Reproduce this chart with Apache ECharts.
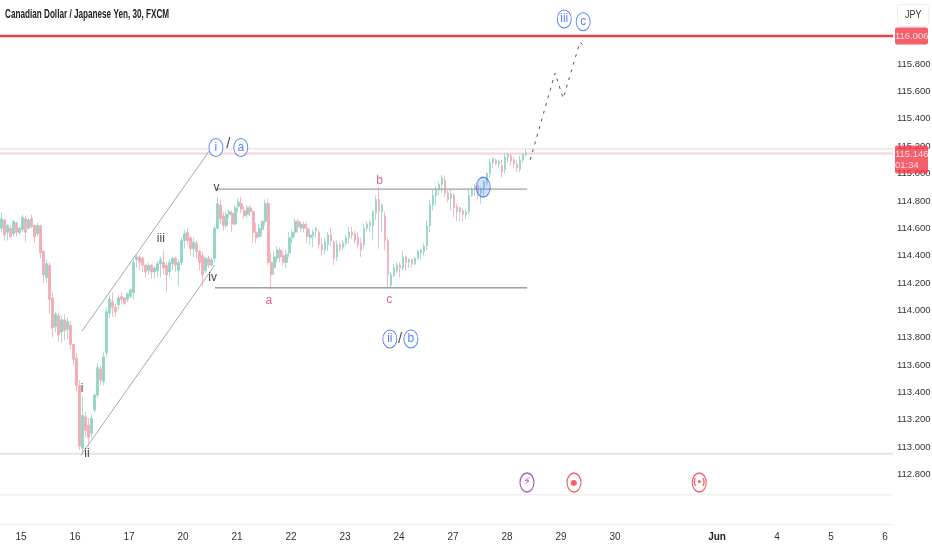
<!DOCTYPE html>
<html><head><meta charset="utf-8"><style>html,body{margin:0;padding:0;background:#fff}#c{width:932px;height:550px}</style>
<script src="https://cdn.jsdelivr.net/npm/echarts@6/dist/echarts.min.js"></script></head><body><div id="c"></div>
<script>
// Candles: [open, close, low, high] grouped by session
const daySlots = 298;
const dayPrior = [[114.60,114.67,114.57,114.72],[114.66,114.55,114.51,114.67],[114.57,114.62,114.51,114.63],[114.60,114.54,114.53,114.62],[114.56,114.65,114.54,114.66],[114.64,114.57,114.54,114.65],[114.57,114.60,114.55,114.61]];
const day15 = [[114.59,114.68,114.57,114.70],[114.67,114.57,114.50,114.69],[114.60,114.66,114.59,114.68],[114.67,114.61,114.60,114.70],[114.62,114.54,114.49,114.63],[114.56,114.62,114.54,114.64],[114.62,114.42,114.38,114.62],[114.43,114.26,114.20,114.44],[114.24,114.34,114.20,114.37],[114.33,114.08,113.98,114.35],[114.09,113.87,113.80,114.13],[113.88,113.97,113.84,113.99],[113.96,113.82,113.77,113.98],[113.84,113.93,113.76,113.96],[113.93,113.85,113.78,113.97],[113.86,113.92,113.79,113.95],[113.89,113.75,113.71,113.92],[113.75,113.64,113.60,113.75]];
const day16 = [[113.65,113.45,113.40,113.69],[113.45,113.01,112.98,113.49],[112.99,113.23,112.95,113.37],[113.22,113.12,113.07,113.26],[113.16,113.07,113.01,113.21],[113.10,113.21,113.07,113.24],[113.27,113.38,113.25,113.39],[113.38,113.58,113.36,113.61],[113.57,113.49,113.45,113.59],[113.48,113.66,113.45,113.69],[113.69,113.99,113.66,114.02],[113.98,114.08,113.94,114.11],[114.06,114.02,113.95,114.13],[114.02,113.99,113.95,114.05],[114.04,114.09,114.00,114.11],[114.10,114.08,114.05,114.13],[114.09,114.05,114.04,114.10],[114.08,114.12,114.06,114.13]];
const day17 = [[114.10,114.15,114.09,114.16],[114.13,114.35,114.08,114.37],[114.37,114.39,114.31,114.41],[114.39,114.35,114.29,114.40],[114.38,114.33,114.28,114.39],[114.33,114.28,114.24,114.34],[114.29,114.33,114.26,114.35],[114.33,114.28,114.23,114.34],[114.28,114.31,114.23,114.32],[114.29,114.34,114.24,114.36],[114.34,114.37,114.24,114.39],[114.35,114.31,114.26,114.44],[114.33,114.26,114.13,114.35],[114.28,114.35,114.24,114.37],[114.34,114.38,114.29,114.39],[114.38,114.33,114.28,114.39],[114.29,114.35,114.18,114.37],[114.35,114.51,114.33,114.53]];
const day20 = [[114.51,114.56,114.45,114.59],[114.57,114.51,114.48,114.60],[114.53,114.45,114.40,114.54],[114.45,114.50,114.39,114.53],[114.49,114.43,114.38,114.51],[114.43,114.35,114.29,114.44],[114.40,114.26,114.18,114.43],[114.29,114.38,114.27,114.39],[114.38,114.33,114.31,114.40],[114.33,114.37,114.32,114.39],[114.38,114.60,114.35,114.62],[114.60,114.78,114.59,114.83],[114.77,114.67,114.63,114.81],[114.69,114.62,114.58,114.72],[114.62,114.70,114.60,114.72],[114.70,114.72,114.67,114.74],[114.71,114.63,114.57,114.73],[114.63,114.75,114.62,114.77]];
const day21 = [[114.76,114.79,114.72,114.82],[114.78,114.74,114.71,114.83],[114.73,114.69,114.67,114.76],[114.70,114.75,114.68,114.77],[114.75,114.72,114.69,114.77],[114.72,114.57,114.49,114.73],[114.57,114.53,114.49,114.64],[114.54,114.60,114.53,114.63],[114.59,114.65,114.54,114.66],[114.65,114.78,114.62,114.81],[114.78,114.35,114.33,114.82],[114.35,114.26,114.15,114.43],[114.31,114.39,114.26,114.43],[114.38,114.44,114.35,114.47],[114.44,114.39,114.35,114.46],[114.40,114.35,114.33,114.43],[114.35,114.41,114.31,114.44],[114.42,114.53,114.39,114.57]];
const day22 = [[114.53,114.57,114.49,114.59],[114.57,114.65,114.54,114.67],[114.65,114.61,114.57,114.67],[114.60,114.63,114.57,114.65],[114.63,114.60,114.57,114.65],[114.60,114.54,114.49,114.65],[114.53,114.55,114.48,114.59],[114.54,114.57,114.46,114.59],[114.58,114.60,114.53,114.61],[114.57,114.48,114.45,114.59],[114.48,114.44,114.40,114.53],[114.44,114.50,114.41,114.53],[114.48,114.55,114.43,114.57],[114.55,114.51,114.47,114.60],[114.50,114.38,114.33,114.51],[114.39,114.48,114.36,114.51],[114.48,114.45,114.43,114.50],[114.46,114.49,114.44,114.51]];
const day23 = [[114.49,114.53,114.47,114.55],[114.53,114.57,114.49,114.61],[114.57,114.55,114.52,114.61],[114.56,114.51,114.49,114.58],[114.53,114.48,114.45,114.57],[114.49,114.44,114.39,114.53],[114.48,114.60,114.45,114.63],[114.60,114.63,114.58,114.65],[114.62,114.64,114.57,114.66],[114.62,114.72,114.51,114.73],[114.71,114.81,114.66,114.84],[114.81,114.72,114.45,114.90],[114.72,114.77,114.57,114.78],[114.69,114.51,114.44,114.72],[114.51,114.26,114.16,114.53],[114.18,114.26,114.16,114.28],[114.25,114.31,114.24,114.34],[114.29,114.33,114.27,114.35]];
const day24 = [[114.33,114.31,114.24,114.35],[114.31,114.39,114.29,114.43],[114.39,114.35,114.29,114.40],[114.35,114.37,114.31,114.38],[114.37,114.34,114.31,114.38],[114.34,114.38,114.33,114.39],[114.38,114.43,114.37,114.44],[114.42,114.44,114.37,114.45],[114.43,114.47,114.40,114.49],[114.47,114.62,114.44,114.66],[114.62,114.77,114.57,114.81],[114.77,114.84,114.73,114.88],[114.84,114.88,114.76,114.91],[114.88,114.92,114.84,114.94],[114.92,114.97,114.86,114.99],[114.95,114.86,114.83,114.98],[114.86,114.81,114.79,114.88],[114.82,114.85,114.73,114.88]];
const day27 = [[114.84,114.75,114.68,114.86],[114.76,114.72,114.65,114.78],[114.72,114.75,114.65,114.76],[114.73,114.70,114.65,114.75],[114.70,114.72,114.67,114.74],[114.72,114.84,114.70,114.88],[114.84,114.88,114.83,114.90],[114.88,114.91,114.84,114.92],[114.91,114.86,114.81,114.93],[114.86,114.89,114.78,114.90],[114.88,114.94,114.83,114.95],[114.93,115.00,114.91,115.01],[115.00,115.08,114.97,115.11],[115.08,115.11,115.04,115.12],[115.10,115.07,115.06,115.11],[115.07,115.09,115.04,115.10],[115.06,115.01,114.97,115.10],[115.03,115.12,115.00,115.15]];
const day28 = [[115.12,115.14,115.08,115.15],[115.13,115.09,115.06,115.15],[115.10,115.07,115.04,115.12],[115.07,115.04,115.01,115.10],[115.03,115.10,115.01,115.13],[115.10,115.14,115.08,115.15],[115.14,115.15,115.12,115.18]];

// Axis ticks
const priceTicks = [112.8,113.0,113.2,113.4,113.6,113.8,114.0,114.2,114.4,114.6,114.8,115.0,115.2,115.4,115.6,115.8];
const dayTicks  = [0,1,2,3,4,5,6,7,8,9,10,11,12.89,14,15,16];
const dayLabels = ['15','16','17','20','21','22','23','24','27','28','29','30','Jun','4','5','6'];

// Levels and drawings: [sessionPosition, price]
const tStart = -0.389, tEnd = 16.148;
const targetLevel = 116.006, lastPrice = 115.146, upperLevel = 115.18, lowLevel = 112.95, faintLevel = 112.65;
const channelUpper = [[1.13,113.848],[3.5,115.172]];
const channelLower = [[1.11,112.94],[3.59,114.33]];
const boxTop = [[3.61,114.886],[9.37,114.886]];
const boxBottom = [[3.59,114.165],[9.37,114.165]];
const projection = [[9.43,115.10],[9.89,115.735],[10.04,115.55],[10.35,115.96],[10.41,115.94]];
const blackLabels = [['i',1.13,113.43],['ii',1.22,112.95],['iii',2.59,114.52],['iv',3.55,114.235],['v',3.62,114.90]];
const redLabels = [['a',4.59,114.07],['b',6.64,114.945],['c',6.82,114.08]];
const circledLabels = [['i',3.61,115.19],['a',4.07,115.19],['ii',6.83,113.79],['b',7.22,113.79],['iii',10.06,116.13],['c',10.41,116.11]];
const slashLabels = [[3.84,115.22],[7.02,113.79]];
const entryMark = [[8.56,114.90]];
const lightningEvents = [[9.37,112.74]];
const dotEvents = [[10.24,112.74]];
const liveEvents = [[12.56,112.74]];

const FONT = '"Liberation Sans",sans-serif';
const candles = [].concat(dayPrior,day15,day16,day17,day20,day21,day22,day23,day24,day27,day28);
const slots = Array.from({length:daySlots},(_,i)=>String(i));
const hline = (v,color,width)=>({type:'line',xAxisIndex:1,data:[[tStart,v],[tEnd,v]],symbol:'none',silent:true,animation:false,lineStyle:{color,width}});
const seg = (data,color,width,type)=>({type:'line',xAxisIndex:1,data,symbol:'none',silent:true,animation:false,z:4,lineStyle:{color,width,type:type||'solid'}});
const textSeries = (rows,color,size)=>({type:'scatter',xAxisIndex:1,symbolSize:0,z:6,animation:false,
  data:rows.map(r=>({value:[r[1],r[2]],label:{formatter:r[0]}})),
  label:{show:true,position:'inside',color,fontSize:size,fontFamily:FONT}});
const events = (rows,color,glyph,gsize)=>({type:'scatter',xAxisIndex:1,symbol:'circle',symbolSize:[14,19],z:6,animation:false,data:rows,
  itemStyle:{color:'#fff',borderColor:color,borderWidth:1.3},
  label:{show:true,position:'inside',formatter:glyph,color,fontSize:gsize,fontWeight:'bold',fontFamily:'"DejaVu Sans",sans-serif'}});
const tag = (v,text,extra)=>({type:'scatter',xAxisIndex:1,symbolSize:0,z:20,clip:false,animation:false,data:[[tEnd,v]],
  label:Object.assign({show:true,position:'right',distance:0,offset:[2,0],formatter:text,color:'#fff',backgroundColor:'#f23645',padding:[3,0,3,0],width:33,align:'left',fontSize:9.5,lineHeight:11,fontFamily:FONT,borderRadius:2},extra||{})});

const chart = echarts.init(document.getElementById('c'),null,{renderer:'canvas'});
chart.setOption({
  animation:false,backgroundColor:'#fff',
  grid:{left:0,right:39,top:0,bottom:26,outerBoundsMode:'none'},
  xAxis:[
    {type:'category',data:slots,show:false,boundaryGap:true},
    {type:'value',position:'bottom',min:tStart,max:tEnd,splitLine:{show:false},
     axisLine:{show:true,onZero:false,lineStyle:{color:'#eceef2'}},axisTick:{show:false,customValues:dayTicks},
     axisLabel:{customValues:dayTicks,margin:8,color:'#333',fontSize:10,fontFamily:FONT,
       formatter:v=>{const i=dayTicks.indexOf(v);const s=i<0?'':dayLabels[i];return s==='Jun'?'{b|Jun}':s;},rich:{b:{fontWeight:'bold',color:'#222',fontSize:10,fontFamily:FONT}}}}
  ],
  yAxis:[{type:'value',position:'right',min:112.437,max:116.269,scale:true,splitLine:{show:false},
    axisLine:{show:false},axisTick:{show:false,customValues:priceTicks},
    axisLabel:{customValues:priceTicks,margin:4,color:'#333',fontSize:9.5,fontFamily:FONT,formatter:v=>v.toFixed(3)}}],
  series:[
    hline(faintLevel,'#e8e8e8',1),
    hline(lowLevel,'#e6e6e6',2),
    hline(upperLevel,'#dcdcdc',1),
    hline(lastPrice,'#f8d2d6',2),
    hline(targetLevel,'#e0404e',2.4),
    {type:'candlestick',xAxisIndex:0,data:candles,barWidth:2.2,animation:false,z:3,silent:true,
      itemStyle:{color:'#8fd3c6',color0:'#f3aab2',borderColor:'#8fd3c6',borderColor0:'#f3aab2',borderWidth:0.8}},
    seg(channelUpper,'#a8a8a8',1),
    seg(channelLower,'#a8a8a8',1),
    seg(boxTop,'#a0a0a0',1.4),
    seg(boxBottom,'#a0a0a0',1.4),
    seg(projection,'#555',1,[3,5]),
    {type:'scatter',xAxisIndex:1,symbol:'circle',symbolSize:[14,20],z:7,animation:false,data:entryMark,
      itemStyle:{color:'rgba(41,98,255,0.25)',borderColor:'#2962ff',borderWidth:1}},
    textSeries(blackLabels,'#111',12),
    textSeries(redLabels,'#e0395a',12),
    {type:'scatter',xAxisIndex:1,symbol:'circle',symbolSize:[14,18],z:6,animation:false,
      data:circledLabels.map(r=>({value:[r[1],r[2]],label:{formatter:r[0]}})),
      itemStyle:{color:'#fff',borderColor:'#2962ff',borderWidth:1},
      label:{show:true,position:'inside',color:'#2962ff',fontSize:12,fontFamily:FONT}},
    {type:'scatter',xAxisIndex:1,symbolSize:0,z:6,animation:false,data:slashLabels,
      label:{show:true,position:'inside',formatter:'/',color:'#222',fontSize:15,fontFamily:FONT}},
    events(lightningEvents,'#9c27b0','\u26A1\uFE0E',11),
    events(dotEvents,'#f23645','\u25CF',8),
    events(liveEvents,'#f23645','(\u2022)',8),
    tag(targetLevel,'116.006'),
    tag(lastPrice,'115.146\n01:34',{offset:[2,6]})
  ],
  graphic:[
    {type:'text',x:5,y:9,scaleX:0.68,style:{text:'Canadian Dollar / Japanese Yen, 30, FXCM',fill:'#222',font:'bold 12px '+FONT},z:31},
    {type:'rect',left:897,top:4,shape:{width:31,height:22,r:3},style:{fill:'#fff',stroke:'#eceef2',lineWidth:1},z:30},
    {type:'text',x:905,y:10,scaleX:0.85,style:{text:'JPY',fill:'#333',font:'10.5px '+FONT},z:31}
  ]
});
</script></body></html>
